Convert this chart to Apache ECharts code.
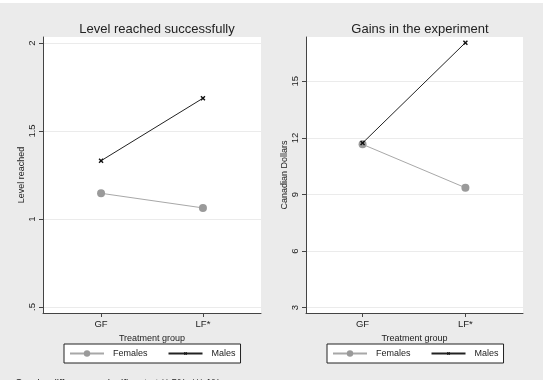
<!DOCTYPE html>
<html>
<head>
<meta charset="utf-8">
<script src="https://cdn.jsdelivr.net/npm/echarts@6/dist/echarts.min.js"></script>
<style>
html,body{margin:0;padding:0;background:#fff;}
#c{width:543px;height:380px;}
</style>
</head>
<body>
<div id="c"></div>
<script>
const categories = ['GF', 'LF*'];
const seriesNames = ['Females', 'Males'];
const levelFemales = [1.146, 1.063];
const levelMales = [1.331, 1.686];
const gainsFemales = [11.66, 9.36];
const gainsMales = [11.73, 17.05];
const levelTicks = [0.5, 1, 1.5, 2];
const gainsTicks = [3, 6, 9, 12, 15];
const titles = ['Level reached successfully', 'Gains in the experiment'];
const yNames = ['Level reached', 'Canadian Dollars'];
const xName = 'Treatment group';
const note = 'Gender differences significant at ** 5%, *** 1%';

const FONT = 'Liberation Sans, Arial, sans-serif';
const toXY = arr => arr.map((v, i) => [i + 1, v]);
const catPos = categories.map((c, i) => i + 1);

function xAxis(idx, min, max) {
  return {
    type: 'value', gridIndex: idx, min: min, max: max,
    name: xName, nameLocation: 'middle', nameGap: 17,
    nameTextStyle: {fontFamily: FONT, fontSize: 9, color: '#222'},
    axisLine: {show: true, lineStyle: {color: '#444', width: 1}},
    axisTick: {show: true, length: 4, customValues: catPos, lineStyle: {color: '#444'}},
    axisLabel: {customValues: catPos, margin: 6, fontFamily: FONT, fontSize: 9.5, color: '#222',
      formatter: v => categories[Math.round(v) - 1] || ''},
    splitLine: {show: false}
  };
}
function yAxis(idx, min, max, ticks, nm, fmt) {
  return {
    type: 'value', gridIndex: idx, min: min, max: max,
    name: nm, nameLocation: 'middle', nameGap: 17,
    nameTextStyle: {fontFamily: FONT, fontSize: 9, color: '#222'},
    axisLine: {show: true, lineStyle: {color: '#444', width: 1}},
    axisTick: {show: true, length: 4, customValues: ticks, lineStyle: {color: '#444'}},
    axisLabel: {customValues: ticks, rotate: 90, margin: 6, fontFamily: FONT, fontSize: 9.5, color: '#222', formatter: fmt},
    splitLine: {show: true, lineStyle: {color: '#ebebeb', width: 1}}
  };
}
function legend(left) {
  return {
    left: left, top: 344, orient: 'horizontal',
    data: seriesNames,
    backgroundColor: '#fff', borderColor: '#222', borderWidth: 1,
    padding: [5, 5, 5, 5], itemWidth: 34, itemHeight: 8, itemGap: 20,
    textStyle: {fontFamily: FONT, fontSize: 9, color: '#222', padding: [0, 0, 0, 4]},
    selectedMode: false
  };
}
// X-shaped marker, with invisible move points that pad its bounding box
const xMark = 'path://M-5,-5M15,15M0,2L2,0L5,3L8,0L10,2L7,5L10,8L8,10L5,7L2,10L0,8L3,5Z';
function fem(xi, data) {
  return {name: 'Females', type: 'line', xAxisIndex: xi, yAxisIndex: xi, data: toXY(data),
    symbol: 'circle', symbolSize: 8, itemStyle: {color: '#9a9a9a'},
    lineStyle: {color: '#a8a8a8', width: 1}, animation: false, z: 3};
}
function mal(xi, data) {
  return {name: 'Males', type: 'line', xAxisIndex: xi, yAxisIndex: xi, data: toXY(data),
    symbol: xMark, symbolSize: 10, itemStyle: {color: '#111'},
    lineStyle: {color: '#222', width: 1}, animation: false, z: 4};
}

const chart = echarts.init(document.getElementById('c'));
chart.setOption({
  backgroundColor: '#ebebeb',
  animation: false,
  graphic: [
    {type: 'rect', shape: {x: 0, y: 0, width: 543, height: 3}, style: {fill: '#fff'}, silent: true},
    {type: 'rect', shape: {x: 43, y: 37, width: 218, height: 276}, style: {fill: '#fff'}, silent: true, z: -1},
    {type: 'rect', shape: {x: 306, y: 37, width: 217, height: 276}, style: {fill: '#fff'}, silent: true, z: -1}
  ],
  title: [
    {text: titles[0], left: 152, top: 18, textAlign: 'center',
      textStyle: {fontFamily: FONT, fontSize: 13, fontWeight: 'normal', color: '#222'}},
    {text: titles[1], left: 415, top: 18, textAlign: 'center',
      textStyle: {fontFamily: FONT, fontSize: 13, fontWeight: 'normal', color: '#222'}},
    {text: note, left: 10, top: 374,
      textStyle: {fontFamily: FONT, fontSize: 10, fontWeight: 'normal', color: '#222'}}
  ],
  grid: [
    {left: 43, top: 37, width: 218, height: 276, show: false},
    {left: 306, top: 37, width: 217, height: 276, show: false}
  ],
  xAxis: [xAxis(0, 0.43, 2.57), xAxis(1, 0.45, 2.56)],
  yAxis: [
    yAxis(0, 0.466, 2.034, levelTicks, yNames[0], v => (v === 0.5 ? '.5' : String(v))),
    yAxis(1, 2.72, 17.35, gainsTicks, yNames[1], v => String(v))
  ],
  legend: [legend(64), legend(327)],
  series: [fem(0, levelFemales), mal(0, levelMales), fem(1, gainsFemales), mal(1, gainsMales)]
});
</script>
</body>
</html>
